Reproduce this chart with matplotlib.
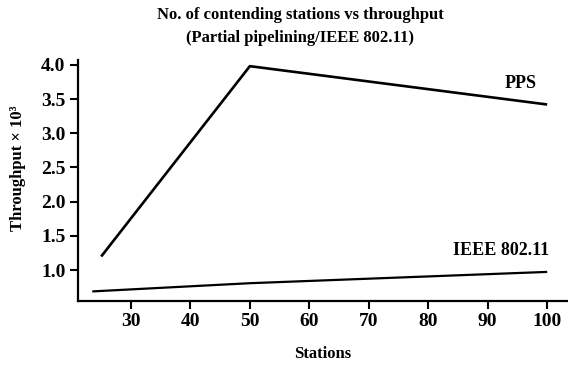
import matplotlib
matplotlib.use('Agg')
import matplotlib.pyplot as plt

plt.rcParams['font.family'] = ['Liberation Serif', 'DejaVu Serif']
plt.rcParams['font.weight'] = 'bold'
plt.rcParams['axes.labelweight'] = 'bold'

# Data
pps_stations = [25, 50, 100]
pps_throughput = [1.2, 3.98, 3.42]

ieee_stations = [23.5, 50, 100]
ieee_throughput = [0.69, 0.81, 0.975]

x_ticks = [30, 40, 50, 60, 70, 80, 90, 100]
y_ticks = [1.0, 1.5, 2.0, 2.5, 3.0, 3.5, 4.0]

fig = plt.figure(figsize=(5.68, 3.66), dpi=100)
ax = fig.add_axes([78 / 568, 65 / 366, 1 - 78 / 568, (301 - 60) / 366])

ax.plot(pps_stations, pps_throughput, color='black', linewidth=1.9, solid_capstyle='butt')
ax.plot(ieee_stations, ieee_throughput, color='black', linewidth=1.6, solid_capstyle='butt')

ax.text(98.3, 3.72, 'PPS', ha='right', va='center', fontsize=13)
ax.text(100.3, 1.29, 'IEEE 802.11', ha='right', va='center', fontsize=13)

ax.set_xlim(21.1, 103.5)
ax.set_ylim(0.55, 4.07)
ax.set_xticks(x_ticks)
ax.set_yticks(y_ticks)
ax.set_yticklabels([f'{v:.1f}' for v in y_ticks])

for side in ['top', 'right']:
    ax.spines[side].set_visible(False)
for side in ['left', 'bottom']:
    ax.spines[side].set_linewidth(1.6)

ax.tick_params(direction='out', length=6, width=1.5, labelsize=14, pad=3)

ax.set_xlabel('Stations', fontsize=12, labelpad=11)
ax.set_ylabel('Throughput × 10³', fontsize=12)
ax.yaxis.set_label_coords(-0.106, 0.552)

fig.text(300 / 568, 1 - 15 / 366, 'No. of contending stations vs throughput',
         ha='center', va='center', fontsize=12)
fig.text(300 / 568, 1 - 38 / 366, '(Partial pipelining/IEEE 802.11)',
         ha='center', va='center', fontsize=12)

fig.savefig('out.png', dpi=100)
